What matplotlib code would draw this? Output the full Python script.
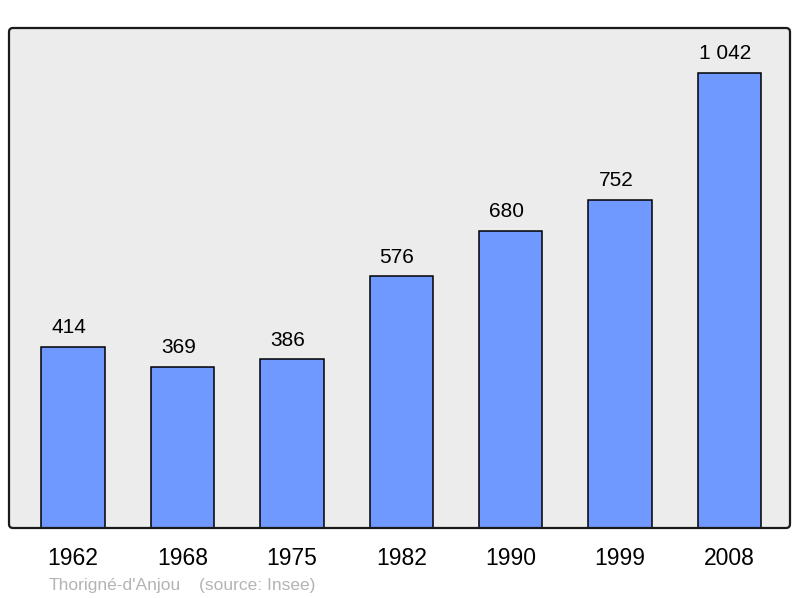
import matplotlib
matplotlib.use("Agg")
import matplotlib.pyplot as plt
from matplotlib.patches import FancyBboxPatch

years = ["1962", "1968", "1975", "1982", "1990", "1999", "2008"]
population = [414, 369, 386, 576, 680, 752, 1042]
value_labels = ["414", "369", "386", "576", "680", "752", "1 042"]
commune = "Thorigné-d'Anjou"
source = "(source: Insee)"

W, H = 800, 598
fig = plt.figure(figsize=(W / 100, H / 100), dpi=100)
plt.rcParams['font.family'] = ['Liberation Sans', 'DejaVu Sans']

x0, x1, y0, y1 = 9, 790, 28, 528
ax = fig.add_axes([x0 / W, 1 - y1 / H, (x1 - x0) / W, (y1 - y0) / H])
ax.patch.set_visible(False)
for s in ax.spines.values():
    s.set_visible(False)

rect = (x0 / W, 1 - y1 / H, (x1 - x0) / W, (y1 - y0) / H)
bg = FancyBboxPatch(rect[:2], rect[2], rect[3], boxstyle="round,pad=0,rounding_size=0.005",
                    mutation_aspect=W / H, transform=fig.transFigure,
                    facecolor="#ececec", edgecolor="none", zorder=-1)
fig.add_artist(bg)

xs = list(range(len(years)))
ax.bar(xs, population, width=0.58, color="#7099ff", edgecolor="black",
       linewidth=1.1, zorder=2)

ax.set_xlim(-0.585, 6.553)
ax.set_ylim(0, 1145)
ax.set_xticks([])
ax.set_yticks([])

for x, v, lab in zip(xs, population, value_labels):
    ax.annotate(lab, (x, v), xytext=(-3, 10), textcoords="offset points",
                ha="center", va="baseline", fontsize=15, color="black")

for x, y in zip(xs, years):
    ax.annotate(y, (x, 0), xycoords=("data", "axes fraction"), xytext=(0, -26.6),
                textcoords="offset points", ha="center", va="baseline",
                fontsize=16.5, color="black", annotation_clip=False)

edge = FancyBboxPatch(rect[:2], rect[2], rect[3], boxstyle="round,pad=0,rounding_size=0.005",
                      mutation_aspect=W / H, transform=fig.transFigure,
                      facecolor="none", edgecolor="#1a1a1a", linewidth=1.6, zorder=5)
fig.add_artist(edge)

fig.text(49 / W, 1 - 590 / H, commune, fontsize=12.5, color="#b4b4b4", ha="left", va="baseline")
fig.text(199 / W, 1 - 590 / H, source, fontsize=12.5, color="#b4b4b4", ha="left", va="baseline")

fig.savefig("out.png", dpi=100, facecolor="white")
